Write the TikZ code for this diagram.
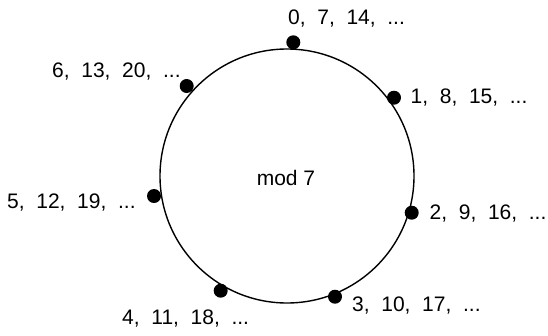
\documentclass[tikz,border=0pt]{standalone}
\usepackage{fontspec}
\setmainfont{Liberation Sans}
\begin{document}
\begin{tikzpicture}[x=1pt,y=-1pt,
  ring/.style={circle,draw=black,line width=1.4pt,minimum size=254pt,inner sep=0pt},
  dot/.style={circle,fill=black,minimum size=14pt,inner sep=0pt},
  lbl/.style={anchor=west,inner sep=0pt,font=\fontsize{21}{24}\selectfont},
  ctr/.style={inner sep=0pt,font=\fontsize{21}{24}\selectfont}]
\useasboundingbox (0,0) rectangle (548,335);
\node[ring] (c) at (287,176) {};
\node[ctr] (m) at (286,177.5) {mod 7};
\node[dot] (d0) at (293.3,42.3) {};
\node[dot] (d1) at (394,97.7) {};
\node[dot] (d2) at (411.7,212.7) {};
\node[dot] (d3) at (335,296.7) {};
\node[dot] (d4) at (220.7,290.7) {};
\node[dot] (d5) at (154,196) {};
\node[dot] (d6) at (186.7,86) {};
\node[lbl] (l0) at (288,19) {0,\ \ 7,\ \ 14,\ \ ...};
\node[lbl] (l1) at (410.5,98) {1,\ \ 8,\ \ 15,\ \ ...};
\node[lbl] (l2) at (429.5,214) {2,\ \ 9,\ \ 16,\ \ ...};
\node[lbl] (l3) at (352,306) {3,\ \ 10,\ \ 17,\ \ ...};
\node[lbl] (l4) at (122,319) {4,\ \ 11,\ \ 18,\ \ ...};
\node[lbl] (l5) at (7,202.5) {5,\ \ 12,\ \ 19,\ \ ...};
\node[lbl] (l6) at (52,71.7) {6,\ \ 13,\ \ 20,\ \ ...};
\end{tikzpicture}
\end{document}
